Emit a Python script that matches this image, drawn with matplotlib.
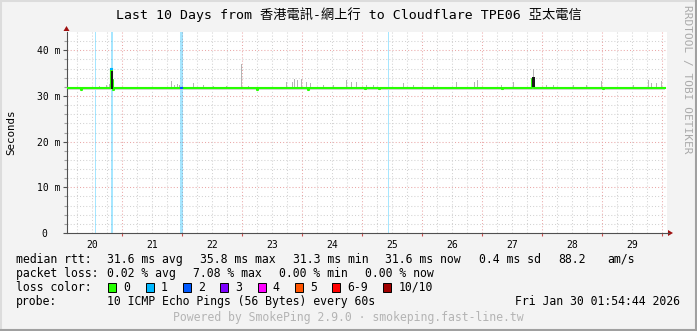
import datetime as dt
import matplotlib
matplotlib.use('Agg')
import matplotlib.pyplot as plt
import matplotlib.dates as mdates
from matplotlib.lines import Line2D
from matplotlib.patches import Rectangle, Polygon

W, H = 697, 331
plt.rcParams['font.family'] = ['DejaVu Sans Mono', 'Noto Sans CJK TC']

# time window: last 10 days ending Fri Jan 30 01:54:44 2026
start = dt.datetime(2026, 1, 20, 1, 54, 44)
day_labels = ['20', '21', '22', '23', '24', '25', '26', '27', '28', '29']

# median rtt (ms), step values starting at given hour offsets
med_h = [0, 5.6, 6.0, 17.6, 18.0, 18.4, 18.8, 76.0, 76.4, 96.4, 96.8, 119.2, 119.6,
         124.8, 125.2, 174.0, 174.4, 186.0, 186.4, 186.8, 214.4, 214.8, 239.2]
med_ms = [31.65, 31.3, 31.65, 35.8, 33.5, 31.3, 31.65, 31.3, 31.65, 31.4, 31.65, 31.45, 31.65,
          31.45, 31.65, 31.45, 31.65, 33.8, 32.2, 31.65, 31.45, 31.65, 31.65]

# smoke spikes (hour offset, top ms)
smoke_h = [2.3, 10.5, 13.2, 15.9, 16.9, 18.0, 19.9, 23.9, 29.2, 35.9, 41.9, 43.2, 44.1, 44.9,
           47.9, 50.5, 51.2, 54.5, 58.5, 63.9, 69.9, 72.5, 81.2, 87.9, 90.3, 91.2, 92.1, 93.9,
           95.9, 97.5, 99.2, 102.5, 106.5, 111.9, 113.9, 115.9, 119.9, 122.5, 134.5, 138.5,
           141.2, 146.5, 155.9, 157.6, 161.2, 163.2, 164.1, 165.2, 173.9, 178.5, 186.5, 191.9,
           194.5, 202.5, 207.9, 213.9, 221.2, 226.5, 232.5, 233.9, 235.9, 237.9]
smoke_top = [31.95, 32.0, 32.1, 32.3, 32.6, 39.4, 32.0, 32.0, 32.4, 32.0, 33.2, 32.4, 32.6, 32.4,
             32.0, 32.8, 32.1, 32.5, 32.2, 32.2, 36.9, 32.2, 32.1, 33.0, 33.1, 33.7, 33.5, 33.8,
             33.1, 32.8, 33.3, 32.4, 32.5, 33.5, 33.0, 33.1, 32.4, 32.5, 32.8, 32.4,
             32.2, 32.4, 33.0, 32.8, 32.4, 33.1, 33.5, 33.1, 32.5, 33.1, 35.9, 32.4,
             32.4, 32.4, 32.5, 33.3, 32.5, 32.5, 33.5, 32.9, 32.8, 33.3]

# dense (dark) smoke
dark_h = [17.5, 186.0]
dark_lo = [31.6, 31.9]
dark_hi = [35.4, 34.2]

# loss periods (hour offset, width in hours) - all in the "1" loss bin
loss_h = [11.2, 17.5, 45.2, 128.4]
loss_w = [0.4, 1.0, 1.1, 0.4]

loss_names = ['0', '1', '2', '3', '4', '5', '6-9', '10/10']
loss_colors = ['#26ff00', '#00b8ff', '#0059ff', '#7e00ff', '#ff00ff', '#ff5500', '#ff0000', '#a00000']

t0 = mdates.date2num(start)


def hx(h):
    return t0 + h / 24.0


def fx(px):
    return px / W


def fy(py):
    return 1 - py / H


fig = plt.figure(figsize=(W / 100, H / 100), dpi=100, facecolor='#f3f3f3')
ax = fig.add_axes([fx(67), fy(233), fx(600), 201 / H])
ax.set_facecolor('white')
ax.set_xlim(t0, t0 + 10)
ax.set_ylim(0, 44)

# grid
for v in range(2, 44, 2):
    if v % 10 == 0:
        ax.axhline(v, color='#eaa8a8', lw=0.75, ls=(0, (1, 2)), zorder=0.5)
    else:
        ax.axhline(v, color='#d2d2d2', lw=0.75, ls=(0, (1, 2)), zorder=0.5)
base = mdates.date2num(dt.datetime(2026, 1, 20))
for k in range(41):
    x = base + k * 0.25
    if x <= t0 or x >= t0 + 10:
        continue
    if k % 4 == 0:
        ax.axvline(x, color='#eaa8a8', lw=0.75, ls=(0, (1, 2)), zorder=0.5)
    else:
        ax.axvline(x, color='#d2d2d2', lw=0.75, ls=(0, (1, 2)), zorder=0.5)

# loss background bars
for h, w in zip(loss_h, loss_w):
    ax.axvspan(hx(h), hx(h + w), color='#00b8ff', alpha=0.35, lw=0, zorder=1)

# smoke
ax.fill_between([hx(med_h[0]), hx(med_h[-1])], 31.3, 32.0, color='#d4d4d4', lw=0, zorder=2)
for h, top in zip(smoke_h, smoke_top):
    ax.bar(hx(h), top - 31.6, width=0.4 / 24, bottom=31.6, color='#b4b4b4', lw=0, zorder=2)

# median line
ax.step([hx(h) for h in med_h], med_ms, where='post', color='#26ff00', lw=1.5, zorder=3)
for h, lo, hi in zip(dark_h, dark_lo, dark_hi):
    ax.bar(hx(h), hi - lo, width=1.0 / 24, bottom=lo, align='edge', color='#1a1a1a', lw=0, zorder=4)
ax.plot([hx(17.6), hx(18.0)], [35.8, 35.8], color='#00b8ff', lw=1.5, zorder=5)
ax.plot([hx(45.6), hx(46.0)], [31.65, 31.65], color='#0059ff', lw=1.5, zorder=5)

# axes, ticks, labels
for s in ['top', 'right']:
    ax.spines[s].set_visible(False)
for s in ['left', 'bottom']:
    ax.spines[s].set_color('#505050')
    ax.spines[s].set_linewidth(0.8)
ax.set_yticks([0, 10, 20, 30, 40], ['0  ', '10 m', '20 m', '30 m', '40 m'])
ax.set_yticks(list(range(2, 44, 2)), minor=True)
ax.tick_params(axis='y', which='major', length=3, width=0.8, color='#505050', labelsize=7, pad=2)
ax.tick_params(axis='y', which='minor', length=2, width=0.8, color='#a0a0a0')
midnights = [base + k for k in range(1, 11)]
ax.set_xticks(midnights, [''] * len(midnights))
noons = [base + k + 0.5 for k in range(10)]
ax.set_xticks(noons, day_labels, minor=True)
ax.tick_params(axis='x', which='major', length=2.5, width=0.8, color='#d05050')
ax.tick_params(axis='x', which='minor', length=0, labelsize=7, pad=5)
fig.text(fx(11), fy(132), 'Seconds', rotation=90, ha='center', va='center', fontsize=7.8)

# axis extension and arrows
fig.add_artist(Line2D([fx(667), fx(669)], [fy(233), fy(233)], color='#505050', lw=0.8))
fig.add_artist(Polygon([(fx(668), fy(230)), (fx(668), fy(236)), (fx(673), fy(233))],
                       closed=True, color='#a01010', lw=0))
fig.add_artist(Polygon([(fx(63.5), fy(31)), (fx(69.5), fy(31)), (fx(66.5), fy(26))],
                       closed=True, color='#a01010', lw=0))

# title and side text
fig.text(0.5, fy(15), 'Last 10 Days from 香港電訊-網上行 to Cloudflare TPE06 亞太電信',
         ha='center', va='center', fontsize=9.5)
fig.text(fx(687), fy(5), 'RRDTOOL / TOBI OETIKER', rotation=270, ha='center', va='top',
         fontsize=8, color='#aaaaaa')

# legend
fs = 8.3
y1, y2, y3, y4 = fy(259.3), fy(273.3), fy(287.3), fy(301.3)
fig.text(fx(16), y1, 'median rtt:', va='center', fontsize=fs)
for xp, s in zip([107.3, 200, 293.3, 385, 479.3, 558.3, 607.3],
                 ['31.6 ms avg', '35.8 ms max', '31.3 ms min', '31.6 ms now', '0.4 ms sd', '88.2', 'am/s']):
    fig.text(fx(xp), y1, s, va='center', fontsize=fs)
fig.text(fx(16), y2, 'packet loss:', va='center', fontsize=fs)
for xp, s in zip([107.3, 193.3, 279.3, 365],
                 ['0.02 % avg', '7.08 % max', '0.00 % min', '0.00 % now']):
    fig.text(fx(xp), y2, s, va='center', fontsize=fs)
fig.text(fx(16), y3, 'loss color:', va='center', fontsize=fs)
bx = 108.3
for name, col in zip(loss_names, loss_colors):
    fig.add_artist(Rectangle((fx(bx), fy(291.5)), fx(8), 8.5 / H, facecolor=col,
                             edgecolor='black', lw=0.7))
    fig.text(fx(bx + 15), y3, name, va='center', fontsize=fs)
    bx += 37.3 + (len(name) - 1) * 7.0
fig.text(fx(16), y4, 'probe:', va='center', fontsize=fs)
fig.text(fx(107.3), y4, '10 ICMP Echo Pings (56 Bytes) every 60s', va='center', fontsize=fs)
fig.text(fx(680), y4, 'Fri Jan 30 01:54:44 2026', ha='right', va='center', fontsize=fs)
fig.text(fx(348), fy(318), 'Powered by SmokePing 2.9.0 · smokeping.fast-line.tw',
         ha='center', va='center', fontsize=fs, color='#b4b4b4')

# 3d frame
fig.add_artist(Line2D([0, 1], [fy(0.5), fy(0.5)], color='#dcdcdc', lw=1.5))
fig.add_artist(Line2D([fx(0.5), fx(0.5)], [0, 1], color='#dcdcdc', lw=1.5))
fig.add_artist(Line2D([0, 1], [fy(330), fy(330)], color='#a0a0a0', lw=1.5))
fig.add_artist(Line2D([fx(696), fx(696)], [0, 1], color='#a0a0a0', lw=1.5))

fig.savefig('out.png', dpi=100, facecolor=fig.get_facecolor())
